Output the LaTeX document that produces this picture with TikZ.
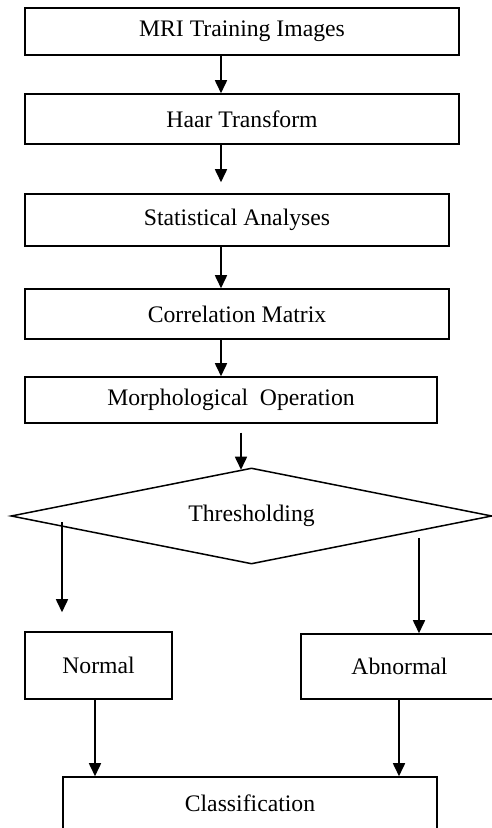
\documentclass[tikz,border=0pt]{standalone}
\usepackage{fontspec}
\setmainfont{Liberation Serif}
\usepackage{tikz}
\usetikzlibrary{shapes,positioning}
\usetikzlibrary{calc}
\usetikzlibrary{arrows.meta}
\tikzset{
	etape/.style={draw,line width=1.5pt,rectangle,inner sep=0pt,font=\fontsize{23.7pt}{28pt}\selectfont},
	fleche/.style={line width=1.6pt,-{Triangle[width=12pt,length=13pt]}}
}

\begin{document}
\begin{tikzpicture}[x=1pt,y=1pt]
\useasboundingbox (0,0) rectangle (492,828);

%Etapes
\node[etape,minimum width=434pt,minimum height=47pt] (mri) at (242,796.5) {MRI Training Images};
\node[etape,minimum width=434pt,minimum height=50pt] (haar) at (242,709) {Haar Transform};
\node[etape,minimum width=424pt,minimum height=52pt] (stat) at (237,608) {Statistical Analyses};
\node[etape,minimum width=424pt,minimum height=50pt] (corr) at (237,514) {Correlation Matrix};
\node[etape,minimum width=412pt,minimum height=46pt] (morph) at (231,428) {Morphological\ \ Operation};

%Decision
\node[etape,shape=diamond,aspect=5,minimum width=481pt,minimum height=96pt] (thr) at (251.5,312) {Thresholding};

%Resultats
\node[etape,minimum width=147pt,minimum height=67pt] (normal) at (98.5,162.5) {Normal};
\node[etape,minimum width=197pt,minimum height=65pt] (abnormal) at (399.5,161.5) {Abnormal};
\node[etape,minimum width=374pt,minimum height=52pt] (class) at (250,25) {Classification};

%Fleches
\draw[fleche] ([xshift=-21pt]mri.south) -- ([xshift=-21pt]haar.north);
\draw[fleche] ([xshift=-21pt]haar.south) -- ([xshift=-16pt,yshift=11pt]stat.north);
\draw[fleche] ([xshift=-16pt]stat.south) -- ([xshift=-16pt]corr.north);
\draw[fleche] ([xshift=-16pt]corr.south) -- ([xshift=-10pt]morph.north);
\draw[fleche] ([xshift=10pt,yshift=-9pt]morph.south) -- ([xshift=-10.5pt,yshift=-2.5pt]thr.north);

\draw[fleche] ([shift={(-189.5pt,-6pt)}]thr.center) -- ([shift={(-36.5pt,19pt)}]normal.north);
\draw[fleche] ([shift={(167.5pt,-22pt)}]thr.center) -- ([xshift=19.5pt]abnormal.north);

\draw[fleche] ([xshift=-3.5pt]normal.south) -- ([xshift=-155pt]class.north);
\draw[fleche] ([xshift=-0.5pt]abnormal.south) -- ([xshift=149pt]class.north);

\end{tikzpicture}
\end{document}
